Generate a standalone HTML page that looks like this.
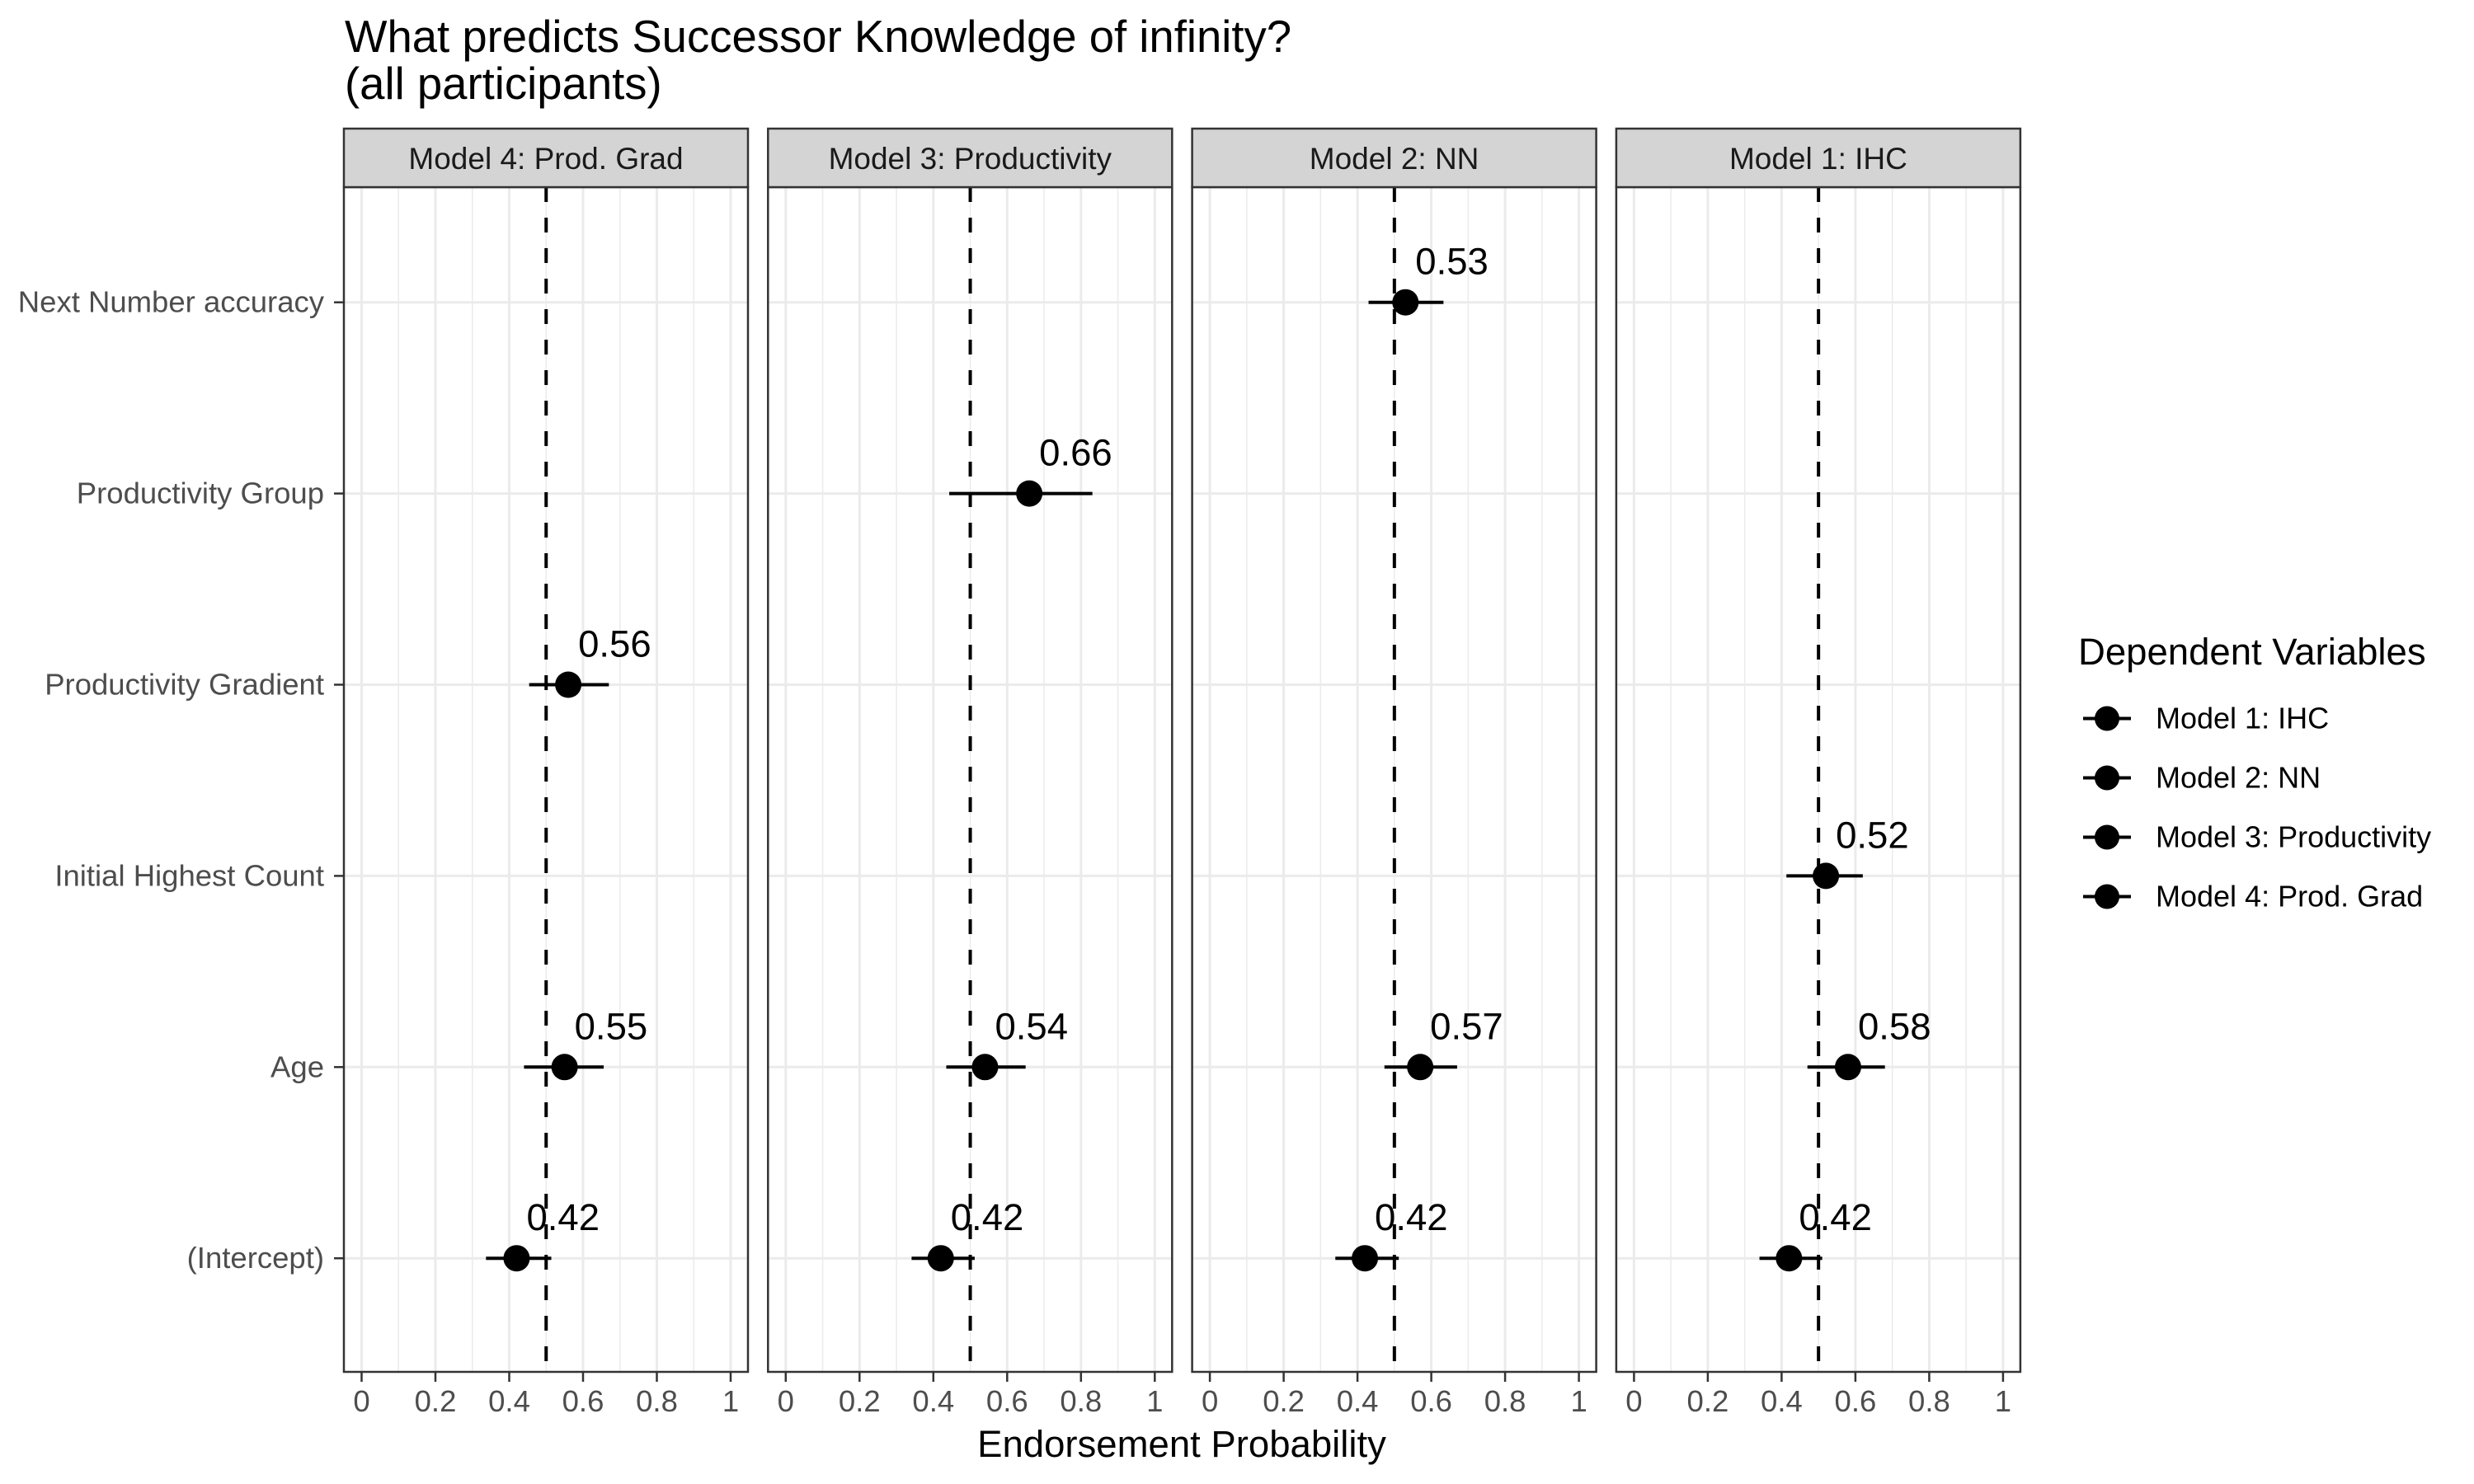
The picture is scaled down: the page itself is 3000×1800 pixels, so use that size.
<!DOCTYPE html>
<html><head><meta charset="utf-8"><style>
html,body{margin:0;padding:0;background:#fff}
svg{display:block;font-family:"Liberation Sans",Arial,sans-serif}
</style></head><body>
<svg id="chart" width="3000" height="1800" viewBox="0 0 3000 1800" xmlns="http://www.w3.org/2000/svg">
<text x="418" y="63" font-size="54.5" fill="#000">What predicts Successor Knowledge of infinity?</text>
<text x="418" y="120" font-size="54.5" fill="#000">(all participants)</text>
<text x="1433" y="1767" font-size="45.5" text-anchor="middle" fill="#000">Endorsement Probability</text>
<g id="plots"></g>
<g>
<text x="2520" y="806" font-size="45.5" fill="#000">Dependent Variables</text>
<g id="legend-items"></g>
</g>
</svg>
<script>
const panels = ["Model 4: Prod. Grad", "Model 3: Productivity", "Model 2: NN", "Model 1: IHC"];
const terms = ["Next Number accuracy", "Productivity Group", "Productivity Gradient", "Initial Highest Count", "Age", "(Intercept)"];
const xTicks = [0, 0.2, 0.4, 0.6, 0.8, 1];
const xTickLabels = ["0", "0.2", "0.4", "0.6", "0.8", "1"];
const legendLabels = ["Model 1: IHC", "Model 2: NN", "Model 3: Productivity", "Model 4: Prod. Grad"];
// per-panel estimates: [termIndex, estimate, low, high]
const estModel4 = [[5, 0.42, 0.337, 0.514], [4, 0.55, 0.44, 0.656], [2, 0.56, 0.454, 0.67]];
const estModel3 = [[5, 0.42, 0.341, 0.512], [4, 0.54, 0.435, 0.65], [1, 0.66, 0.443, 0.831]];
const estModel2 = [[5, 0.42, 0.34, 0.512], [4, 0.57, 0.473, 0.67], [0, 0.53, 0.43, 0.633]];
const estModel1 = [[5, 0.42, 0.34, 0.51], [4, 0.58, 0.47, 0.68], [3, 0.52, 0.413, 0.62]];
const panelData = [estModel4, estModel3, estModel2, estModel1];
const refLine = 0.5;

const NS = "http://www.w3.org/2000/svg";
function mk(tag, attrs, parent) {
  const e = document.createElementNS(NS, tag);
  for (const k in attrs) e.setAttribute(k, attrs[k]);
  parent.appendChild(e);
  return e;
}
const root = document.getElementById("plots");
const P0 = 417, PW = 490, PITCH = 514.3, STRIP_TOP = 156, STRIP_BOT = 227, PB = 1664;
const rowY0 = 366.7, rowStep = 231.9;
function yScale(i) { return rowY0 + i * rowStep; }
function xScale(p, v) { const l = P0 + p * PITCH; return l + 21.5 + v * 447.5; }

terms.forEach((t, i) => {
  const y = yScale(i);
  const tk = mk("line", {x1: 405, x2: P0, y1: y, y2: y, stroke: "#333", "stroke-width": 2.5}, root);
  
  
  const tx = mk("text", {x: 393, y: y + 12, "font-size": 36.5, "text-anchor": "end", fill: "#4d4d4d"}, root);
  tx.textContent = t;
  
  
});

panels.forEach((name, p) => {
  const l = P0 + p * PITCH;
  const g = mk("g", {}, root);
  
  
  for (let v = 0.1; v < 1; v += 0.2) {
    mk("line", {x1: xScale(p, v), x2: xScale(p, v), y1: STRIP_BOT, y2: PB, stroke: "#ebebeb", "stroke-width": 1.5}, g);
  }
  xTicks.forEach(v => {
    mk("line", {x1: xScale(p, v), x2: xScale(p, v), y1: STRIP_BOT, y2: PB, stroke: "#ebebeb", "stroke-width": 3}, g);
  });
  terms.forEach((t, i) => {
    mk("line", {x1: l, x2: l + PW, y1: yScale(i), y2: yScale(i), stroke: "#ebebeb", "stroke-width": 3}, g);
  });
  const rl = mk("line", {x1: xScale(p, refLine), x2: xScale(p, refLine), y1: STRIP_BOT, y2: PB, stroke: "#000", "stroke-width": 4, "stroke-dasharray": "18 19"}, g);
  
  
  panelData[p].forEach(d => {
    const y = yScale(d[0]);
    const eb = mk("line", {x1: xScale(p, d[2]), x2: xScale(p, d[3]), y1: y, y2: y, stroke: "#000", "stroke-width": 4}, g);
    
    
    const c = mk("circle", {cx: xScale(p, d[1]), cy: y, r: 16, fill: "#000"}, g);
    
    
    const lb = mk("text", {x: xScale(p, d[1]) + 12, y: y - 34, "font-size": 45.5, fill: "#000"}, g);
    lb.textContent = d[1].toFixed(2);
    
    
  });
  mk("rect", {x: l, y: STRIP_BOT, width: PW, height: PB - STRIP_BOT, fill: "none", stroke: "#333", "stroke-width": 2.5}, g);
  const st = mk("rect", {x: l, y: STRIP_TOP, width: PW, height: STRIP_BOT - STRIP_TOP, fill: "#d4d4d4", stroke: "#333", "stroke-width": 2.5}, g);
  
  
  const stt = mk("text", {x: l + PW / 2, y: 205, "font-size": 37, "text-anchor": "middle", fill: "#1a1a1a"}, g);
  stt.textContent = name;
  
  
  xTicks.forEach((v, k) => {
    mk("line", {x1: xScale(p, v), x2: xScale(p, v), y1: PB, y2: 1676, stroke: "#333", "stroke-width": 2.5}, g);
    const tl = mk("text", {x: xScale(p, v), y: 1712, "font-size": 36.5, "text-anchor": "middle", fill: "#4d4d4d"}, g);
    tl.textContent = xTickLabels[k];
    
    
  });
});

const lg = document.getElementById("legend-items");
legendLabels.forEach((t, i) => {
  const y = 871.5 + i * 72;
  const it = mk("g", {}, lg);
  
  
  mk("line", {x1: 2526, x2: 2584, y1: y, y2: y, stroke: "#000", "stroke-width": 4}, it);
  mk("circle", {cx: 2555, cy: y, r: 15, fill: "#000"}, it);
  const tx = mk("text", {x: 2614, y: y + 12, "font-size": 36, fill: "#000"}, it);
  tx.textContent = t;
});
</script>
</body></html>
